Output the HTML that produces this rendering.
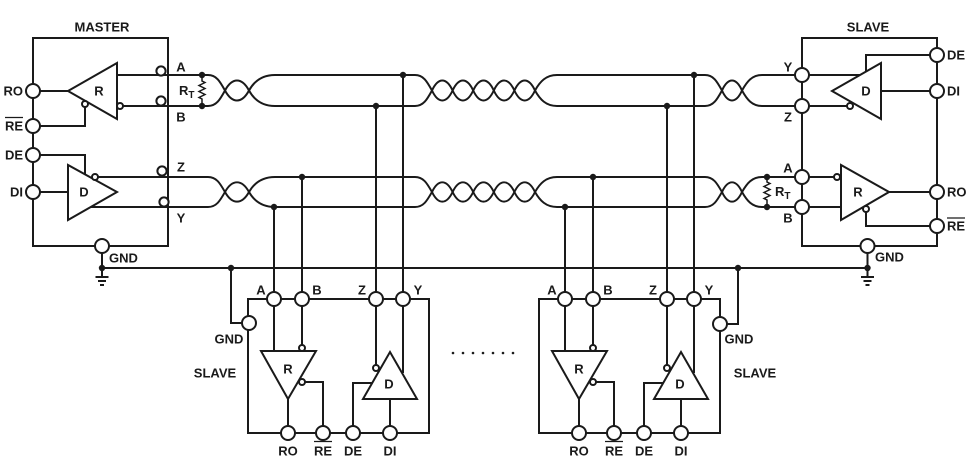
<!DOCTYPE html>
<html>
<head>
<meta charset="utf-8">
<style>
html,body{margin:0;padding:0;background:#fff;}
svg{display:block;}
text{font-family:"Liberation Sans",Arial,sans-serif;font-weight:bold;font-size:13px;fill:#1a1a1a;}
</style>
</head>
<body>
<svg width="970" height="462" viewBox="0 0 970 462" xmlns="http://www.w3.org/2000/svg">
<rect width="970" height="462" fill="#fff"/>
<defs>
  <g id="pair" fill="none">
    <path d="M208,75 C216.5,75 220,81.5 225,90.5 C232.2,103.8 241.8,103.8 249,90.5 C254,81.5 262,75 275,75"/>
    <path d="M208,106 C216.5,106 220,99.5 225,90.5 C232.2,77.2 241.8,77.2 249,90.5 C254,99.5 262,106 275,106"/>
    <path d="M415,75 C423.5,75 427,81.5 432,90.5 C438.2,103.8 446.4,103.8 452.6,90.5 C458.8,77.2 467,77.2 473.2,90.5 C479.4,103.8 487.6,103.8 493.8,90.5 C500,77.2 508.2,77.2 514.4,90.5 C520.6,103.8 528.8,103.8 535,90.5 C540,81.5 546,75 557,75"/>
    <path d="M415,106 C423.5,106 427,99.5 432,90.5 C438.2,77.2 446.4,77.2 452.6,90.5 C458.8,103.8 467,103.8 473.2,90.5 C479.4,77.2 487.6,77.2 493.8,90.5 C500,103.8 508.2,103.8 514.4,90.5 C520.6,77.2 528.8,77.2 535,90.5 C540,99.5 546,106 557,106"/>
    <path d="M705,75 C713.5,75 717,81.5 722,90.5 C728,103.8 736,103.8 742,90.5 C747,81.5 752,75 762,75"/>
    <path d="M705,106 C713.5,106 717,99.5 722,90.5 C728,77.2 736,77.2 742,90.5 C747,99.5 752,106 762,106"/>
    <path d="M275,75H415 M557,75H705 M762,75H795 M275,106H415 M557,106H705 M762,106H795"/>
  </g>
  <g id="slv">
    <rect x="248" y="299" width="181" height="134" fill="none"/>
    <polygon points="261,351 316,351 288,399" fill="#fff"/>
    <polygon points="363,399 417,399 390,352" fill="#fff"/>
    <path fill="none" d="M274,299V351 M302,299V345 M305,382H323V433 M288,399V433 M376,299V365 M403,299V373 M353,433V383H372 M390,399V433"/>
    <circle cx="302" cy="348" r="3" fill="#fff"/>
    <circle cx="302" cy="382" r="3" fill="#fff"/>
    <circle cx="376" cy="368" r="3" fill="#fff"/>
    <circle cx="274" cy="299" r="7" fill="#fff"/>
    <circle cx="302" cy="299" r="7" fill="#fff"/>
    <circle cx="376" cy="299" r="7" fill="#fff"/>
    <circle cx="403" cy="299" r="7" fill="#fff"/>
    <circle cx="288" cy="433" r="7" fill="#fff"/>
    <circle cx="323" cy="433" r="7" fill="#fff"/>
    <circle cx="353" cy="433" r="7" fill="#fff"/>
    <circle cx="390" cy="433" r="7" fill="#fff"/>
  </g>
</defs>

<g stroke="#1a1a1a" stroke-width="2" fill="none">
  <use href="#pair"/>
  <use href="#pair" transform="translate(0,104.42) scale(1,0.9677)"/>
  <path d="M117,75H208 M123,106H208 M98,177H208 M90.75,207H208"/>
  <path d="M403,75V292 M376,106V292 M302,177V292 M274,207V292 M694,75V292 M667,106V292 M593,177V292 M565,207V292"/>
  <path d="M102,268H867.5"/>
  <path d="M102,253V277 M95.5,277H108.5 M98,281H106 M100,285H104"/>
  <path d="M867.5,253V277 M861,277H874 M863.5,281H871.5 M865.5,285H869.5"/>
  <path stroke-width="1.5" d="M202,75V81 L205,82.5 L199,85.5 L205,88.5 L199,91.5 L205,94.5 L199,97.5 L202,99 V106"/>
  <path stroke-width="1.5" d="M767,177V182 L770,183.5 L764,186.5 L770,189.5 L764,192.5 L770,195.5 L764,198.5 L767,200 V207"/>

  <rect x="33" y="38" width="135" height="208"/>
  <polygon points="68,91 117,63 117,119" fill="#fff"/>
  <path d="M40,91H68 M85,107V126H40"/>
  <circle cx="120" cy="106" r="3" fill="#fff"/>
  <circle cx="85" cy="104" r="3" fill="#fff"/>
  <polygon points="68,165 68,220 117,192" fill="#fff"/>
  <path d="M40,192H68 M40,155H85V174"/>
  <circle cx="95" cy="177" r="3" fill="#fff"/>
  <circle cx="33" cy="91" r="7" fill="#fff"/>
  <circle cx="33" cy="126" r="7" fill="#fff"/>
  <circle cx="33" cy="155" r="7" fill="#fff"/>
  <circle cx="33" cy="192" r="7" fill="#fff"/>
  <circle cx="102" cy="246" r="7" fill="#fff"/>
  <circle cx="161" cy="71" r="4.6" fill="#fff"/>
  <circle cx="161" cy="101" r="4.6" fill="#fff"/>
  <circle cx="162" cy="171" r="4.6" fill="#fff"/>
  <circle cx="164" cy="202" r="4.6" fill="#fff"/>

  <rect x="802" y="38" width="135" height="208"/>
  <polygon points="832,91 881,63 881,119" fill="#fff"/>
  <path d="M802,75H860 M802,106H847 M930,55H866V72 M930,91H881"/>
  <circle cx="850" cy="106" r="3" fill="#fff"/>
  <polygon points="841,165 841,220 889,192" fill="#fff"/>
  <path d="M802,177H834 M802,207H841 M866,212V226H930 M889,192H930"/>
  <circle cx="837" cy="177" r="3" fill="#fff"/>
  <circle cx="866" cy="209" r="3" fill="#fff"/>
  <circle cx="802" cy="75" r="7" fill="#fff"/>
  <circle cx="802" cy="106" r="7" fill="#fff"/>
  <circle cx="802" cy="177" r="7" fill="#fff"/>
  <circle cx="802" cy="207" r="7" fill="#fff"/>
  <circle cx="937" cy="55" r="7" fill="#fff"/>
  <circle cx="937" cy="91" r="7" fill="#fff"/>
  <circle cx="937" cy="192" r="7" fill="#fff"/>
  <circle cx="937" cy="226" r="7" fill="#fff"/>
  <circle cx="867.5" cy="246" r="7" fill="#fff"/>

  <use href="#slv"/>
  <use href="#slv" transform="translate(291,0)"/>
  <path d="M231,268V323H242"/>
  <circle cx="249" cy="323" r="7" fill="#fff"/>
  <path d="M727,324H738V268"/>
  <circle cx="720" cy="324" r="7" fill="#fff"/>

  <path stroke-width="1.3" d="M5,117.5H23 M947,218H965 M314,441.5H332 M605,441.5H623"/>
</g>

<g fill="#1a1a1a">
  <circle cx="202" cy="75" r="3.2"/>
  <circle cx="202" cy="106" r="3.2"/>
  <circle cx="403" cy="75" r="3.2"/>
  <circle cx="376" cy="106" r="3.2"/>
  <circle cx="302" cy="177" r="3.2"/>
  <circle cx="274" cy="207" r="3.2"/>
  <circle cx="694" cy="75" r="3.2"/>
  <circle cx="667" cy="106" r="3.2"/>
  <circle cx="593" cy="177" r="3.2"/>
  <circle cx="565" cy="207" r="3.2"/>
  <circle cx="767" cy="177" r="3.2"/>
  <circle cx="767" cy="207" r="3.2"/>
  <circle cx="102" cy="268" r="3.2"/>
  <circle cx="231" cy="268" r="3.2"/>
  <circle cx="738" cy="268" r="3.2"/>
  <circle cx="867.5" cy="268" r="3.2"/>
  <circle cx="453" cy="353" r="1.3"/>
  <circle cx="463" cy="353" r="1.3"/>
  <circle cx="473" cy="353" r="1.3"/>
  <circle cx="483" cy="353" r="1.3"/>
  <circle cx="493" cy="353" r="1.3"/>
  <circle cx="503" cy="353" r="1.3"/>
  <circle cx="513" cy="353" r="1.3"/>
</g>

<text x="102" y="31.6" text-anchor="middle">MASTER</text>
<text x="23" y="95.6" text-anchor="end">RO</text>
<text x="23" y="130.6" text-anchor="end">RE</text>
<text x="23" y="159.6" text-anchor="end">DE</text>
<text x="23" y="196.6" text-anchor="end">DI</text>
<text x="99" y="95.6" text-anchor="middle">R</text>
<text x="84" y="196.6" text-anchor="middle">D</text>
<text x="181" y="71.6" text-anchor="middle">A</text>
<text x="181" y="121.6" text-anchor="middle">B</text>
<text x="181" y="171.6" text-anchor="middle">Z</text>
<text x="181" y="222.6" text-anchor="middle">Y</text>
<text x="179" y="95">R<tspan font-size="10" dy="3">T</tspan></text>
<text x="109" y="262.6">GND</text>

<text x="868" y="31.6" text-anchor="middle">SLAVE</text>
<text x="947" y="59.6">DE</text>
<text x="947" y="95.6">DI</text>
<text x="947" y="196.6">RO</text>
<text x="947" y="230.6">RE</text>
<text x="866" y="95.6" text-anchor="middle">D</text>
<text x="858" y="196.6" text-anchor="middle">R</text>
<text x="788" y="71.6" text-anchor="middle">Y</text>
<text x="788" y="121.6" text-anchor="middle">Z</text>
<text x="788" y="172.6" text-anchor="middle">A</text>
<text x="788" y="222.6" text-anchor="middle">B</text>
<text x="775" y="196">R<tspan font-size="10" dy="3">T</tspan></text>
<text x="875" y="261.6">GND</text>

<text x="261" y="294.6" text-anchor="middle">A</text>
<text x="317" y="294.6" text-anchor="middle">B</text>
<text x="362" y="294.6" text-anchor="middle">Z</text>
<text x="418" y="294.6" text-anchor="middle">Y</text>
<text x="288" y="373.6" text-anchor="middle">R</text>
<text x="389" y="388.6" text-anchor="middle">D</text>
<text x="288" y="455.6" text-anchor="middle">RO</text>
<text x="323" y="455.6" text-anchor="middle">RE</text>
<text x="353" y="455.6" text-anchor="middle">DE</text>
<text x="390" y="455.6" text-anchor="middle">DI</text>
<text x="229" y="343.6" text-anchor="middle">GND</text>
<text x="215" y="377.6" text-anchor="middle">SLAVE</text>

<text x="552" y="294.6" text-anchor="middle">A</text>
<text x="608" y="294.6" text-anchor="middle">B</text>
<text x="653" y="294.6" text-anchor="middle">Z</text>
<text x="709" y="294.6" text-anchor="middle">Y</text>
<text x="579" y="373.6" text-anchor="middle">R</text>
<text x="680" y="388.6" text-anchor="middle">D</text>
<text x="579" y="455.6" text-anchor="middle">RO</text>
<text x="614" y="455.6" text-anchor="middle">RE</text>
<text x="644" y="455.6" text-anchor="middle">DE</text>
<text x="681" y="455.6" text-anchor="middle">DI</text>
<text x="739" y="343.6" text-anchor="middle">GND</text>
<text x="755" y="377.6" text-anchor="middle">SLAVE</text>
</svg>
</body>
</html>
